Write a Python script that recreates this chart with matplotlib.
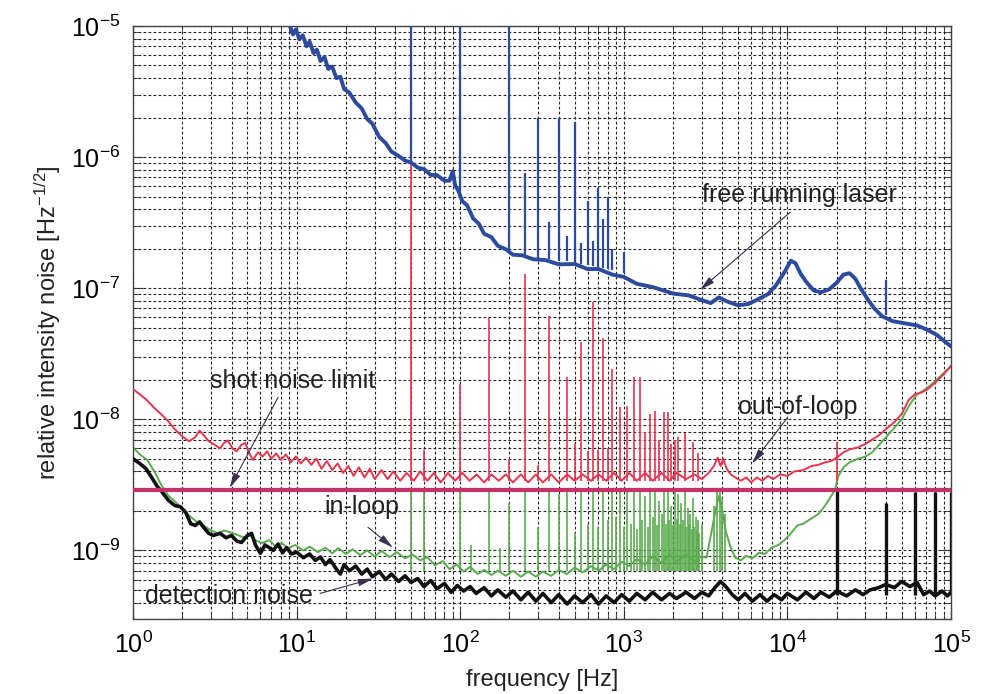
import matplotlib
matplotlib.use("Agg")
import matplotlib.pyplot as plt
from matplotlib.ticker import LogLocator, NullFormatter

plt.rcParams['font.family'] = ['Liberation Sans', 'DejaVu Sans']
plt.rcParams['mathtext.fontset'] = 'custom'
plt.rcParams['mathtext.rm'] = 'Liberation Sans'
plt.rcParams['mathtext.it'] = 'Liberation Sans:italic'

# free running laser
free_f = [9.1, 9.5, 9.9, 10.4, 10.9, 11.5, 12.0, 12.7, 13.3, 14.0, 14.8, 15.6, 16.5, 17.5,
          18.5, 19.5, 21, 23, 25, 27, 29, 32, 35, 38, 42, 46, 50, 55, 60, 66, 72, 80, 86,
          90, 93, 97, 103, 110, 120, 130, 140, 155, 170, 190, 210, 240, 280, 330, 400,
          500, 600, 700, 850, 1000, 1200, 1500, 2000, 2500, 3000, 3400, 3800, 4300, 5000,
          5800, 6700, 7600, 8500, 9500, 10500, 11200, 12000, 13000, 14500, 16000, 18000,
          20000, 22000, 24000, 26000, 28000, 31000, 34000, 38000, 44000, 52000, 62000,
          72000, 82000, 92000, 100000]
free_v = [1.0e-5, 8.6e-6, 9.4e-6, 7.9e-6, 8.5e-6, 7.0e-6, 7.6e-6, 6.2e-6, 6.6e-6, 5.4e-6,
          5.8e-6, 4.7e-6, 4.9e-6, 4.0e-6, 4.1e-6, 3.3e-6, 3.1e-6, 2.6e-6, 2.35e-6, 1.95e-6,
          1.8e-6, 1.42e-6, 1.28e-6, 1.1e-6, 1.02e-6, 9.4e-7, 9.1e-7, 8.3e-7, 8.1e-7, 7.3e-7,
          7.3e-7, 6.6e-7, 6.6e-7, 7.8e-7, 6.1e-7, 5.6e-7, 4.6e-7, 4.3e-7, 3.4e-7, 3.1e-7,
          2.6e-7, 2.45e-7, 2.1e-7, 1.98e-7, 1.8e-7, 1.78e-7, 1.66e-7, 1.64e-7, 1.52e-7,
          1.53e-7, 1.4e-7, 1.4e-7, 1.27e-7, 1.22e-7, 1.08e-7, 1.02e-7, 9.1e-8, 8.8e-8,
          8.1e-8, 7.7e-8, 8.5e-8, 7.9e-8, 7.4e-8, 7.6e-8, 8.3e-8, 9.0e-8, 1.05e-7, 1.3e-7,
          1.62e-7, 1.55e-7, 1.3e-7, 1.12e-7, 9.6e-8, 9.3e-8, 9.8e-8, 1.1e-7, 1.27e-7,
          1.3e-7, 1.18e-7, 1.0e-7, 8.2e-8, 7.0e-8, 6.1e-8, 5.6e-8, 5.4e-8, 5.2e-8, 4.8e-8,
          4.4e-8, 3.9e-8, 3.6e-8]
free_spike_f = [50, 100, 200, 250, 300, 350, 400, 450, 500, 550, 600, 650, 700, 750,
                800, 850, 1000, 40000]
free_spike_base = [9.0e-7, 4.9e-7, 1.95e-7, 1.78e-7, 1.7e-7, 1.68e-7, 1.62e-7, 1.6e-7,
                   1.55e-7, 1.52e-7, 1.5e-7, 1.48e-7, 1.45e-7, 1.43e-7, 1.4e-7, 1.38e-7,
                   1.3e-7, 6.2e-8]
free_spike_top = [1.2e-5, 1.2e-5, 1.2e-5, 7.5e-7, 2.0e-6, 3.2e-7, 2.0e-6, 2.5e-7, 1.85e-6,
                  2.2e-7, 4.6e-7, 2.3e-7, 5.8e-7, 3.4e-7, 5.0e-7, 2.0e-7, 1.9e-7, 1.15e-7]

# out-of-loop
out_f = [1.0, 1.1, 1.2, 1.35, 1.5, 1.65, 1.8, 2.0, 2.2, 2.4, 2.55, 2.7, 2.9, 3.15, 3.4,
         3.6, 3.8, 4.05, 4.3, 4.6, 4.85, 5.1, 5.4, 5.8, 6.2, 6.6, 7.0, 7.5, 8.0, 8.6, 9.2,
         9.9, 10.6, 11.4, 12.3, 13.2, 14.2, 15.3, 16.5, 17.8, 19.2, 20.7, 22.3, 24, 26, 28,
         30, 33, 36, 39, 43, 47, 52, 57, 63, 69, 76, 84, 93, 103, 114, 126, 140, 155, 172,
         190, 210, 235, 260, 290, 320, 360, 400, 450, 500, 560, 630, 700, 780, 870, 970,
         1080, 1200, 1350, 1500, 1700, 1900, 2100, 2400, 2700, 3000, 3300, 3550, 3750,
         3900, 4050, 4250, 4500, 4800, 5200, 5600, 6000, 6500, 7000, 7600, 8200, 9000,
         10000, 11000, 12500, 14000, 15500, 17000, 18500, 20000, 22000, 24000, 27000,
         30000, 33000, 36000, 40000, 45000, 50000, 55000, 60000, 66000, 72000, 80000,
         90000, 100000]
out_v = [1.7e-8, 1.55e-8, 1.42e-8, 1.22e-8, 1.08e-8, 9.6e-9, 8.4e-9, 7.4e-9, 6.8e-9,
         7.3e-9, 8.2e-9, 7.6e-9, 6.8e-9, 6.4e-9, 6.0e-9, 6.6e-9, 6.9e-9, 6.0e-9, 5.7e-9,
         6.4e-9, 6.6e-9, 5.6e-9, 4.9e-9, 5.6e-9, 5.2e-9, 5.7e-9, 5.0e-9, 5.5e-9, 4.9e-9,
         5.4e-9, 4.7e-9, 5.2e-9, 4.6e-9, 5.1e-9, 4.5e-9, 5.0e-9, 4.2e-9, 4.8e-9, 4.1e-9,
         4.6e-9, 3.9e-9, 4.4e-9, 3.7e-9, 4.3e-9, 3.6e-9, 4.2e-9, 3.5e-9, 4.1e-9, 3.5e-9,
         4.0e-9, 3.4e-9, 3.9e-9, 3.4e-9, 4.0e-9, 3.4e-9, 3.9e-9, 3.3e-9, 3.9e-9, 3.4e-9,
         3.9e-9, 3.4e-9, 3.8e-9, 3.3e-9, 3.8e-9, 3.4e-9, 3.8e-9, 3.3e-9, 3.8e-9, 3.3e-9,
         3.8e-9, 3.3e-9, 3.8e-9, 3.3e-9, 3.8e-9, 3.4e-9, 3.8e-9, 3.4e-9, 3.8e-9, 3.4e-9,
         3.9e-9, 3.4e-9, 3.9e-9, 3.4e-9, 3.9e-9, 3.4e-9, 3.9e-9, 3.4e-9, 3.9e-9, 3.5e-9,
         3.8e-9, 3.5e-9, 3.9e-9, 4.4e-9, 5.1e-9, 4.4e-9, 5.0e-9, 4.2e-9, 3.8e-9, 3.6e-9,
         3.4e-9, 3.6e-9, 3.3e-9, 3.6e-9, 3.4e-9, 3.7e-9, 3.5e-9, 3.8e-9, 3.7e-9, 4.0e-9,
         4.1e-9, 4.4e-9, 4.5e-9, 4.7e-9, 4.8e-9, 5.1e-9, 5.6e-9, 5.9e-9, 6.1e-9, 6.5e-9,
         7.0e-9, 7.5e-9, 8.4e-9, 9.5e-9, 1.1e-8, 1.4e-8, 1.55e-8, 1.6e-8, 1.7e-8, 1.9e-8,
         2.2e-8, 2.55e-8]
out_spike_f = [50, 60, 100, 150, 200, 250, 300, 350, 450, 500, 550, 600, 650, 700, 750,
               800, 850, 950, 1050, 1150, 1250, 1350, 1450, 1550, 1650, 1750, 1850, 1950,
               2050, 2150, 2350, 2650, 2850, 20000]
out_spike_top = [1.1e-6, 5.8e-9, 1.85e-8, 5.9e-8, 5.0e-9, 1.28e-7, 4.5e-9, 6.1e-8, 2.1e-8,
                 6.6e-9, 3.9e-8, 5.7e-9, 7.8e-8, 5.8e-9, 4.2e-8, 6.0e-9, 2.4e-8, 1.24e-8,
                 1.27e-8, 2.1e-8, 2.1e-8, 8.0e-9, 1.1e-8, 1.15e-8, 7.0e-9, 1.13e-8, 1.13e-8,
                 6.5e-9, 6.9e-9, 7.3e-9, 7.9e-9, 6.7e-9, 5.5e-9, 6.7e-9]
out_spike_floor = 3.4e-9

# in-loop
in_f = [1.0, 1.1, 1.22, 1.35, 1.5, 1.65, 1.85, 2.05, 2.25, 2.5, 2.7, 3.0, 3.3, 3.6, 3.9,
        4.3, 4.7, 5.2, 5.7, 6.2, 6.8, 7.4, 8.1, 8.9, 9.8, 11, 12, 13.5, 15, 16.5, 18, 20,
        22, 24.5, 27, 30, 33, 37, 41, 46, 51, 57, 63, 70, 78, 86, 95, 105, 115, 128, 140,
        155, 170, 190, 210, 235, 260, 290, 320, 360, 400, 450, 500, 560, 630, 700, 780,
        870, 970, 1080, 1200, 1350, 1500, 1700, 1900, 2100, 2400, 2700, 3000, 3200, 3400,
        3600, 3800, 4000, 4200, 4500, 4800, 5200, 5600, 6100, 6700, 7300, 8000, 8800, 9600,
        10500, 11500, 12500, 14000, 15500, 17000, 18500, 19500, 20500, 22000, 24000,
        27000, 30000, 33000, 36000, 40000, 45000, 50000, 56000, 62000, 70000, 80000,
        90000, 100000]
in_v = [6.1e-9, 5.4e-9, 4.9e-9, 4.0e-9, 3.1e-9, 2.6e-9, 2.3e-9, 2.0e-9, 1.8e-9, 1.62e-9,
        1.55e-9, 1.42e-9, 1.35e-9, 1.42e-9, 1.38e-9, 1.32e-9, 1.26e-9, 1.3e-9, 1.18e-9,
        1.14e-9, 1.2e-9, 1.08e-9, 1.14e-9, 1.04e-9, 1.1e-9, 1.0e-9, 1.07e-9, 9.7e-10,
        1.05e-9, 9.5e-10, 1.04e-9, 9.4e-10, 1.02e-9, 9.2e-10, 1.0e-9, 9.0e-10, 9.9e-10,
        8.9e-10, 9.7e-10, 8.7e-10, 9.3e-10, 8.4e-10, 8.9e-10, 7.7e-10, 8.3e-10, 7.2e-10,
        7.8e-10, 6.9e-10, 7.5e-10, 6.6e-10, 7.1e-10, 6.5e-10, 7.0e-10, 6.4e-10, 7.0e-10,
        6.3e-10, 6.9e-10, 6.3e-10, 6.9e-10, 6.4e-10, 7.1e-10, 6.6e-10, 7.4e-10, 6.8e-10,
        7.6e-10, 7.0e-10, 7.8e-10, 7.2e-10, 8.2e-10, 7.6e-10, 8.6e-10, 7.8e-10, 9.0e-10,
        8.0e-10, 9.3e-10, 8.2e-10, 9.3e-10, 8.3e-10, 9.0e-10, 8.8e-10, 1.3e-9, 1.9e-9,
        2.6e-9, 2.0e-9, 1.4e-9, 1.05e-9, 8.8e-10, 8.4e-10, 9.1e-10, 8.7e-10, 9.6e-10,
        9.4e-10, 1.05e-9, 1.1e-9, 1.2e-9, 1.35e-9, 1.55e-9, 1.6e-9, 1.75e-9, 1.9e-9,
        2.2e-9, 2.6e-9, 2.9e-9, 3.7e-9, 4.3e-9, 4.7e-9, 5.0e-9, 5.2e-9, 5.6e-9, 6.3e-9,
        7.3e-9, 8.6e-9, 1.0e-8, 1.3e-8, 1.55e-8, 1.7e-8, 1.95e-8, 2.25e-8, 2.55e-8]
in_spike_f = [50, 60, 100, 117, 150, 175, 200, 250, 300, 350, 400, 450, 500, 550, 600, 650,
              700, 750, 800, 850, 900, 950, 1000, 1050, 1100, 1150, 1200, 1250, 1300, 1350,
              1400, 1450, 1500, 1550, 1600, 1650, 1700, 1750, 1800, 1850, 1900, 1950, 2000,
              2050, 2100, 2150, 2200, 2250, 2300, 2350, 2400, 2450, 2500, 2550, 2600, 2650,
              2700, 2750, 2800, 2850, 2900, 3000, 3550, 3700, 3850, 4000, 4150]
in_spike_top = [2.9e-9, 2.9e-9, 2.9e-9, 1.1e-9, 2.9e-9, 1.05e-9, 2.3e-9, 2.9e-9, 1.5e-9,
                2.9e-9, 2.7e-9, 2.9e-9, 1.35e-9, 2.9e-9, 1.6e-9, 2.9e-9, 1.5e-9, 2.9e-9,
                1.7e-9, 2.9e-9, 1.8e-9, 2.9e-9, 1.5e-9, 2.9e-9, 1.6e-9, 2.9e-9, 1.45e-9,
                2.9e-9, 1.7e-9, 2.6e-9, 1.5e-9, 2.9e-9, 1.8e-9, 2.9e-9, 1.55e-9, 2.4e-9,
                1.9e-9, 2.9e-9, 1.6e-9, 2.9e-9, 1.7e-9, 2.2e-9, 1.55e-9, 2.9e-9, 1.75e-9,
                2.7e-9, 1.6e-9, 2.3e-9, 1.7e-9, 2.9e-9, 1.5e-9, 2.1e-9, 1.6e-9, 1.9e-9,
                1.45e-9, 2.5e-9, 1.5e-9, 1.8e-9, 1.4e-9, 1.7e-9, 1.35e-9, 1.6e-9,
                2.2e-9, 2.9e-9, 2.9e-9, 2.5e-9, 1.9e-9]
in_spike_floor = 7.0e-10

# detection noise
det_f = [1.0, 1.1, 1.2, 1.3, 1.4, 1.5, 1.65, 1.8, 1.95, 2.1, 2.25, 2.4, 2.55, 2.7, 2.9,
         3.1, 3.4, 3.7, 4.0, 4.3, 4.6, 5.0, 5.3, 5.6, 6.0, 6.4, 6.8, 7.2, 7.7, 8.2, 8.7,
         9.3, 10, 11, 12, 13, 14, 15, 16, 17.5, 18.5, 19.5, 21, 23, 25, 27, 29, 32, 35, 38,
         42, 46, 50, 55, 60, 66, 72, 80, 88, 96, 105, 115, 125, 140, 155, 170, 190, 210,
         235, 260, 290, 320, 360, 400, 450, 500, 560, 630, 700, 780, 870, 970, 1080, 1200,
         1350, 1500, 1700, 1900, 2100, 2400, 2700, 3000, 3300, 3600, 3900, 4200, 4600,
         5000, 5500, 6100, 6800, 7500, 8300, 9200, 10000, 11500, 13000, 14500, 16000,
         18000, 20000, 23000, 26000, 29000, 32000, 36000, 40000, 45000, 50000, 56000,
         62000, 68000, 74000, 80000, 88000, 95000, 100000]
det_v = [5.0e-9, 4.6e-9, 4.2e-9, 3.6e-9, 3.1e-9, 2.8e-9, 2.4e-9, 2.2e-9, 2.15e-9, 1.95e-9,
         1.6e-9, 1.55e-9, 1.65e-9, 1.5e-9, 1.35e-9, 1.3e-9, 1.35e-9, 1.25e-9, 1.3e-9,
         1.18e-9, 1.15e-9, 1.3e-9, 1.35e-9, 1.1e-9, 9.5e-10, 1.1e-9, 1.05e-9, 1.0e-9,
         1.12e-9, 9.6e-10, 1.05e-9, 9.4e-10, 9.7e-10, 8.8e-10, 9.4e-10, 8.4e-10, 8.9e-10,
         7.8e-10, 8.5e-10, 7.2e-10, 6.6e-10, 7.8e-10, 7.0e-10, 7.6e-10, 6.6e-10, 7.2e-10,
         6.3e-10, 6.9e-10, 6.0e-10, 6.6e-10, 5.8e-10, 6.4e-10, 5.7e-10, 6.1e-10, 5.3e-10,
         5.9e-10, 5.1e-10, 5.6e-10, 4.8e-10, 5.4e-10, 4.9e-10, 5.3e-10, 4.7e-10, 5.2e-10,
         4.5e-10, 5.0e-10, 4.4e-10, 4.9e-10, 4.2e-10, 4.8e-10, 4.1e-10, 4.7e-10, 4.0e-10,
         4.6e-10, 3.9e-10, 4.5e-10, 4.0e-10, 4.6e-10, 3.9e-10, 4.5e-10, 4.0e-10, 4.6e-10,
         4.1e-10, 4.7e-10, 4.2e-10, 4.8e-10, 4.2e-10, 4.7e-10, 4.3e-10, 4.8e-10, 4.3e-10,
         4.8e-10, 4.5e-10, 5.2e-10, 5.8e-10, 5.3e-10, 4.6e-10, 4.2e-10, 4.7e-10, 4.1e-10,
         4.6e-10, 4.1e-10, 4.6e-10, 4.2e-10, 4.7e-10, 4.2e-10, 4.8e-10, 4.3e-10, 4.8e-10,
         4.4e-10, 4.9e-10, 4.5e-10, 5.0e-10, 4.6e-10, 5.0e-10, 5.2e-10, 5.5e-10, 5.2e-10,
         5.8e-10, 5.3e-10, 5.7e-10, 4.6e-10, 4.9e-10, 4.5e-10, 4.9e-10, 4.5e-10, 4.8e-10]
det_spike_f = [20000, 40000, 60000, 80000, 100000]
det_spike_top = [2.9e-9, 2.3e-9, 2.8e-9, 2.8e-9, 2.8e-9]
det_spike_floor = 4.6e-10

shot_noise = 2.9e-9

x_ticks = [1e0, 1e1, 1e2, 1e3, 1e4, 1e5]
y_ticks = [1e-9, 1e-8, 1e-7, 1e-6, 1e-5]

blue = '#2c4a9e'
red = '#e8344e'
green = '#5aab4f'
magenta = '#c4326c'

fig = plt.figure(figsize=(9.84, 6.94), dpi=100)
ax = fig.add_axes([0.1352, 0.1081, 0.8313, 0.8545])

ax.vlines(in_spike_f, in_spike_floor, in_spike_top, color=green, lw=1.2, zorder=2)
ax.plot(in_f, in_v, color=green, lw=1.4, zorder=2.1)
ax.plot(det_f, det_v, color='#111111', lw=2.6, zorder=3)
ax.vlines(det_spike_f, det_spike_floor, det_spike_top, color='#111111', lw=2.4, zorder=3)
ax.vlines(out_spike_f, out_spike_floor, out_spike_top, color=red, lw=1.2, zorder=4)
ax.plot(out_f, out_v, color=red, lw=1.4, zorder=4.1)
ax.vlines(free_spike_f, free_spike_base, free_spike_top, color=blue, lw=1.6, zorder=5)
ax.plot(free_f, free_v, color=blue, lw=2.8, zorder=5.1)
ax.axhline(shot_noise, color=magenta, lw=3, zorder=6)

ax.set_xscale('log')
ax.set_yscale('log')
ax.set_xlim(1, 1e5)
ax.set_ylim(3e-10, 1e-5)
ax.set_xticks(x_ticks)
ax.set_yticks(y_ticks)

ax.xaxis.set_minor_locator(LogLocator(base=10, subs=range(2, 10), numticks=20))
ax.yaxis.set_minor_locator(LogLocator(base=10, subs=range(2, 10), numticks=20))
ax.xaxis.set_minor_formatter(NullFormatter())
ax.yaxis.set_minor_formatter(NullFormatter())

ax.grid(True, which='both', color='#222222', lw=0.8, linestyle=(0, (2.5, 2)))
ax.tick_params(which='both', direction='in', top=True, right=True, color='#333333')
ax.tick_params(which='major', length=7, labelsize=18, pad=9)
ax.tick_params(which='minor', length=4)
for s in ax.spines.values():
    s.set_color('#444444')
    s.set_linewidth(1.0)

ax.set_xlabel('frequency [Hz]', fontsize=17, labelpad=8, color='#222222')
ax.set_ylabel(r'relative intensity noise [Hz$^{\mathregular{-1/2}}$]', fontsize=17,
              labelpad=6, color='#222222')

arrow = dict(arrowstyle='-|>,head_length=0.9,head_width=0.22', color='#3a3050', lw=0.8,
             shrinkA=0, shrinkB=0)
ax.text(1.19e4, 5.1e-7, 'free running laser', fontsize=18, ha='center', va='center',
        color='#222222', zorder=8)
ax.annotate('', xy=(2.92e3, 9.7e-8), xytext=(1.04e4, 3.8e-7), arrowprops=arrow, zorder=8)
ax.text(9.5, 1.95e-8, 'shot noise limit', fontsize=18, ha='center', va='center',
        color='#222222', zorder=8)
ax.annotate('', xy=(3.9, 3.0e-9), xytext=(7.7, 1.47e-8), arrowprops=arrow, zorder=8)
ax.text(1.15e4, 1.24e-8, 'out-of-loop', fontsize=18, ha='center', va='center',
        color='#222222', zorder=8)
ax.annotate('', xy=(6.08e3, 4.6e-9), xytext=(9.95e3, 1.02e-8), arrowprops=arrow, zorder=8)
ax.text(25, 2.13e-9, 'in-loop', fontsize=18, ha='center', va='center',
        color='#222222', zorder=8)
ax.annotate('', xy=(38.8, 1.05e-9), xytext=(27.3, 1.5e-9), arrowprops=arrow, zorder=8)
ax.text(3.86, 4.5e-10, 'detection noise', fontsize=18, ha='center', va='center',
        color='#222222', zorder=8)
ax.annotate('', xy=(29.3, 6.1e-10), xytext=(13.9, 4.7e-10), arrowprops=arrow, zorder=8)

fig.savefig('out.png', dpi=100)
